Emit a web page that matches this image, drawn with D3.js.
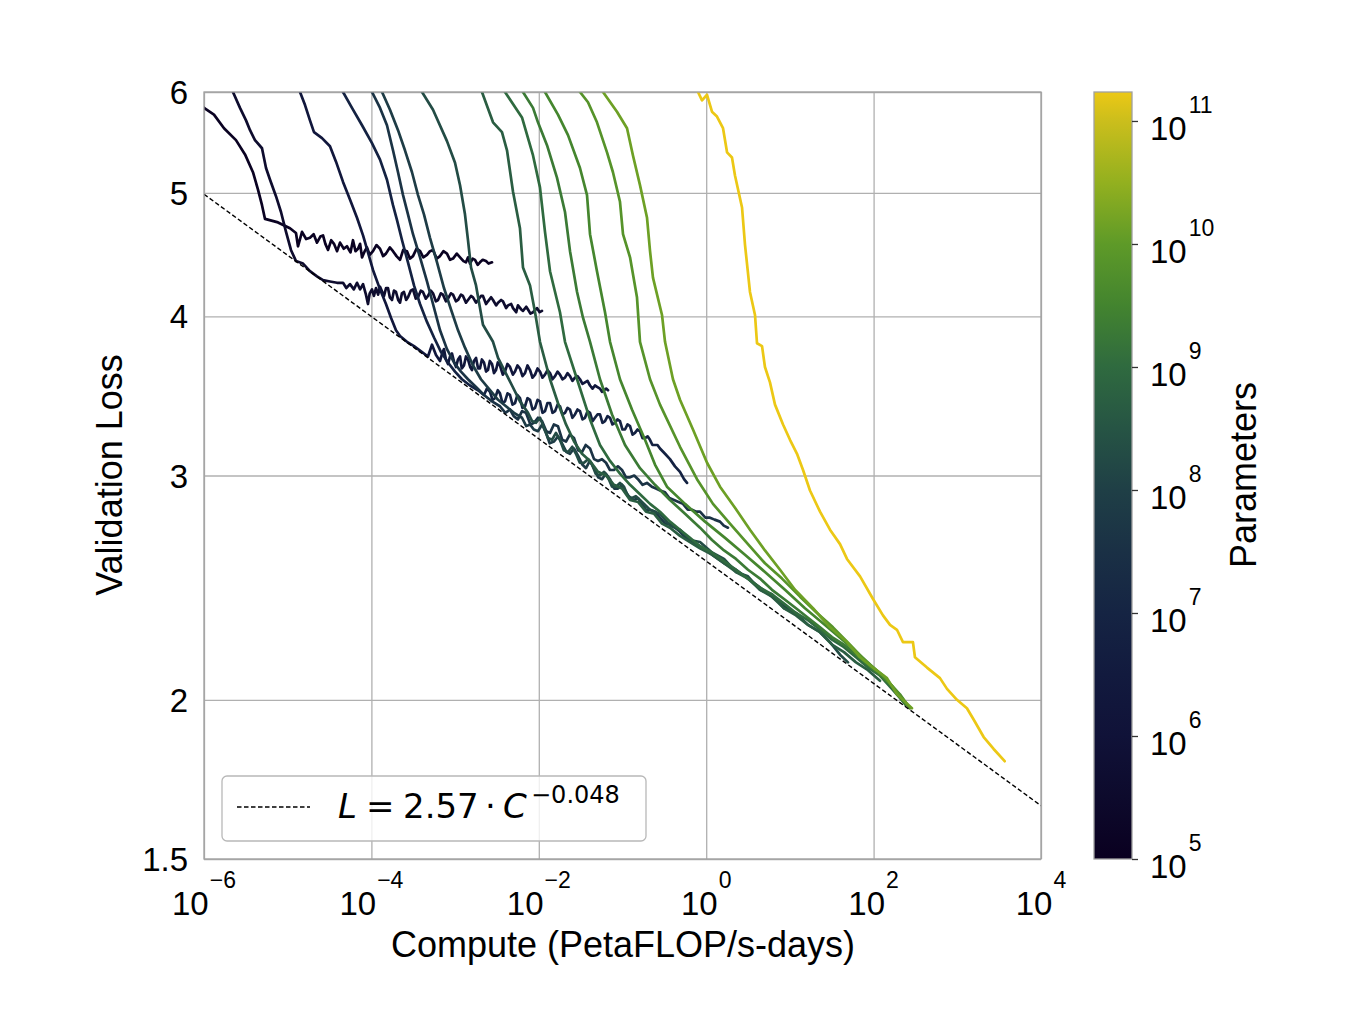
<!DOCTYPE html>
<html><head><meta charset="utf-8">
<script src="https://cdn.jsdelivr.net/npm/d3@7"></script>
<style>
body{margin:0;background:#fff}
text{font-family:"Liberation Sans",Arial,Helvetica,sans-serif;fill:#000}
</style>
</head><body>
<svg id="chart" width="1352" height="1026"></svg>
<script>
// ---------------- data ----------------
const xTickExps = [-6, -4, -2, 0, 2, 4];
const yTicks = [1.5, 2, 3, 4, 5, 6];
const yTickLabels = ["1.5", "2", "3", "4", "5", "6"];
const cbarTickExps = [5, 6, 7, 8, 9, 10, 11];
const paramRange = [1e5, 1.72e11];
const cmapStopExps = [5, 5.5, 6, 6.5, 7, 7.5, 8, 8.5, 9, 9.5, 10, 10.5, 11, 11.236];
const cmapColors = ["#0a0020", "#0d0a2c", "#101238", "#121a3e", "#152443", "#1a3045", "#1f3f46",
                    "#265444", "#2f6a3f", "#43842f", "#5e9a28", "#93b01f", "#cbbe1c", "#ecc815"];
const fitCoef = 2.57;
const fitExp = -0.048;
const fitLabel = "L = 2.57 · C^−0.048";

// parameter count of each training run
const seriesParams = [1.2e5, 4e5, 2e6, 8e6, 4e7, 8e7, 2e8, 5e8, 1e9, 2e9, 3.5e9, 7e9, 1.4e10, 1.75e11];

// each run: [log10(compute in PF-days), validation loss]
const runA = [[-6.1,5.93],[-6.000,5.83],[-5.881,5.76],[-5.761,5.62],[-5.618,5.50],[-5.510,5.36],[-5.415,5.19],[-5.355,5.03],[-5.307,4.89],[-5.271,4.77],[-5.116,4.74],[-4.973,4.69],[-4.901,4.65],[-4.877,4.54],[-4.829,4.66],[-4.78,4.60],[-4.734,4.61],[-4.69,4.64],[-4.650,4.57],[-4.61,4.62],[-4.578,4.63],[-4.55,4.56],[-4.518,4.51],[-4.48,4.59],[-4.447,4.56],[-4.41,4.50],[-4.375,4.57],[-4.33,4.52],[-4.292,4.54],[-4.25,4.49],[-4.220,4.59],[-4.19,4.50],[-4.160,4.52],[-4.135,4.56],[-4.112,4.45],[-4.08,4.50],[-4.053,4.53],[-4.02,4.47],[-3.981,4.50],[-3.94,4.55],[-3.897,4.52],[-3.86,4.46],[-3.826,4.48],[-3.78,4.53],[-3.742,4.50],[-3.70,4.46],[-3.658,4.43],[-3.62,4.51],[-3.575,4.50],[-3.54,4.44],[-3.503,4.46],[-3.46,4.52],[-3.418,4.50],[-3.38,4.45],[-3.336,4.47],[-3.30,4.50],[-3.264,4.51],[-3.22,4.44],[-3.180,4.46],[-3.14,4.50],[-3.097,4.48],[-3.06,4.43],[-3.025,4.44],[-2.98,4.48],[-2.941,4.45],[-2.90,4.42],[-2.870,4.41],[-2.845,4.45],[-2.822,4.40],[-2.79,4.44],[-2.762,4.43],[-2.73,4.39],[-2.703,4.41],[-2.67,4.43],[-2.631,4.42],[-2.60,4.40],[-2.559,4.41]];
const runB = [[-5.700,6.15],[-5.654,6.00],[-5.570,5.83],[-5.498,5.70],[-5.450,5.60],[-5.391,5.50],[-5.307,5.42],[-5.259,5.23],[-5.211,5.12],[-5.140,4.97],[-5.080,4.83],[-5.020,4.66],[-4.961,4.51],[-4.901,4.42],[-4.817,4.40],[-4.734,4.34],[-4.650,4.30],[-4.578,4.27],[-4.495,4.26],[-4.411,4.25],[-4.339,4.25],[-4.30,4.21],[-4.256,4.24],[-4.21,4.20],[-4.172,4.25],[-4.135,4.20],[-4.100,4.24],[-4.065,4.16],[-4.041,4.09],[-4.02,4.17],[-3.993,4.20],[-3.97,4.15],[-3.945,4.21],[-3.92,4.16],[-3.897,4.22],[-3.87,4.18],[-3.849,4.15],[-3.825,4.21],[-3.802,4.21],[-3.78,4.14],[-3.754,4.12],[-3.73,4.19],[-3.706,4.18],[-3.68,4.12],[-3.658,4.10],[-3.635,4.17],[-3.611,4.18],[-3.585,4.12],[-3.563,4.14],[-3.53,4.19],[-3.503,4.20],[-3.47,4.13],[-3.443,4.14],[-3.41,4.19],[-3.384,4.18],[-3.35,4.13],[-3.324,4.15],[-3.29,4.19],[-3.264,4.17],[-3.23,4.11],[-3.204,4.12],[-3.17,4.17],[-3.145,4.16],[-3.11,4.11],[-3.085,4.13],[-3.05,4.17],[-3.025,4.16],[-2.99,4.11],[-2.965,4.12],[-2.93,4.16],[-2.906,4.15],[-2.87,4.10],[-2.846,4.12],[-2.81,4.15],[-2.786,4.14],[-2.75,4.10],[-2.726,4.12],[-2.69,4.15],[-2.667,4.15],[-2.63,4.09],[-2.607,4.11],[-2.57,4.14],[-2.547,4.12],[-2.51,4.08],[-2.487,4.10],[-2.45,4.12],[-2.428,4.11],[-2.39,4.06],[-2.368,4.08],[-2.33,4.09],[-2.308,4.06],[-2.27,4.03],[-2.249,4.08],[-2.21,4.05],[-2.189,4.04],[-2.15,4.07],[-2.129,4.05],[-2.10,4.02],[-2.069,4.03],[-2.022,4.06],[-1.99,4.03],[-1.962,4.04]];
const runC = [[-4.900,6.12],[-4.853,6.00],[-4.793,5.86],[-4.734,5.70],[-4.686,5.58],[-4.590,5.52],[-4.495,5.44],[-4.423,5.29],[-4.339,5.10],[-4.256,4.94],[-4.172,4.78],[-4.100,4.63],[-4.041,4.49],[-3.981,4.35],[-3.897,4.20],[-3.826,4.09],[-3.766,3.99],[-3.706,3.90],[-3.658,3.86],[-3.575,3.82],[-3.491,3.79],[-3.407,3.755],[-3.324,3.72],[-3.276,3.80],[-3.228,3.73],[-3.180,3.69],[-3.155,3.74],[-3.133,3.77],[-3.11,3.70],[-3.085,3.67],[-3.06,3.72],[-3.037,3.74],[-3.01,3.68],[-2.989,3.65],[-2.965,3.70],[-2.941,3.72],[-2.92,3.64],[-2.894,3.66],[-2.87,3.72],[-2.846,3.70],[-2.82,3.65],[-2.798,3.63],[-2.775,3.69],[-2.750,3.71],[-2.725,3.64],[-2.703,3.64],[-2.68,3.70],[-2.655,3.68],[-2.63,3.62],[-2.607,3.63],[-2.585,3.69],[-2.559,3.67],[-2.535,3.61],[-2.511,3.63],[-2.49,3.68],[-2.464,3.66],[-2.43,3.60],[-2.404,3.62],[-2.375,3.67],[-2.344,3.65],[-2.31,3.60],[-2.284,3.62],[-2.255,3.66],[-2.225,3.64],[-2.195,3.59],[-2.165,3.61],[-2.135,3.66],[-2.105,3.63],[-2.075,3.58],[-2.045,3.60],[-2.015,3.64],[-1.986,3.62],[-1.956,3.58],[-1.926,3.60],[-1.896,3.63],[-1.866,3.61],[-1.836,3.57],[-1.806,3.59],[-1.776,3.62],[-1.747,3.60],[-1.717,3.57],[-1.687,3.58],[-1.657,3.61],[-1.627,3.59],[-1.598,3.56],[-1.568,3.58],[-1.538,3.59],[-1.508,3.57],[-1.478,3.54],[-1.448,3.55],[-1.418,3.56],[-1.388,3.53],[-1.358,3.51],[-1.329,3.53],[-1.299,3.52],[-1.269,3.51],[-1.245,3.49],[-1.221,3.50],[-1.195,3.51],[-1.173,3.50]];
const runD = [[-4.399,6.09],[-4.339,6.00],[-4.232,5.83],[-4.112,5.65],[-3.993,5.47],[-3.897,5.31],[-3.814,5.12],[-3.742,4.89],[-3.694,4.76],[-3.634,4.59],[-3.563,4.41],[-3.491,4.23],[-3.419,4.09],[-3.336,3.96],[-3.252,3.85],[-3.168,3.75],[-3.085,3.68],[-3.001,3.62],[-2.918,3.57],[-2.822,3.53],[-2.726,3.50],[-2.655,3.47],[-2.62,3.51],[-2.583,3.49],[-2.553,3.44],[-2.523,3.45],[-2.49,3.50],[-2.464,3.48],[-2.434,3.42],[-2.404,3.43],[-2.374,3.48],[-2.344,3.47],[-2.314,3.41],[-2.284,3.42],[-2.255,3.47],[-2.225,3.45],[-2.195,3.39],[-2.165,3.40],[-2.135,3.45],[-2.105,3.44],[-2.075,3.38],[-2.045,3.39],[-2.015,3.44],[-1.986,3.43],[-1.956,3.36],[-1.926,3.37],[-1.896,3.42],[-1.866,3.42],[-1.836,3.36],[-1.806,3.37],[-1.776,3.41],[-1.747,3.40],[-1.717,3.35],[-1.687,3.36],[-1.657,3.39],[-1.627,3.38],[-1.598,3.33],[-1.568,3.35],[-1.538,3.38],[-1.508,3.37],[-1.478,3.32],[-1.448,3.33],[-1.418,3.37],[-1.388,3.36],[-1.358,3.31],[-1.329,3.33],[-1.299,3.35],[-1.269,3.35],[-1.239,3.30],[-1.209,3.31],[-1.179,3.34],[-1.149,3.33],[-1.120,3.29],[-1.090,3.30],[-1.060,3.32],[-1.030,3.31],[-1.000,3.26],[-0.970,3.26],[-0.940,3.29],[-0.910,3.28],[-0.880,3.23],[-0.851,3.24],[-0.821,3.26],[-0.791,3.25],[-0.761,3.21],[-0.731,3.21],[-0.70,3.22],[-0.672,3.20],[-0.642,3.17],[-0.612,3.17],[-0.582,3.17],[-0.552,3.15],[-0.492,3.12],[-0.433,3.09],[-0.373,3.05],[-0.313,3.02],[-0.265,2.98],[-0.229,2.96]];
const runE = [[-4.053,6.09],[-3.993,6.00],[-3.897,5.83],[-3.814,5.65],[-3.742,5.40],[-3.682,5.19],[-3.622,4.98],[-3.563,4.81],[-3.503,4.64],[-3.419,4.45],[-3.336,4.26],[-3.264,4.09],[-3.180,3.90],[-3.097,3.77],[-3.013,3.68],[-2.930,3.62],[-2.846,3.57],[-2.750,3.52],[-2.655,3.47],[-2.559,3.43],[-2.464,3.40],[-2.40,3.36],[-2.344,3.38],[-2.30,3.34],[-2.249,3.32],[-2.20,3.37],[-2.153,3.36],[-2.10,3.29],[-2.057,3.30],[-2.01,3.33],[-1.962,3.31],[-1.91,3.25],[-1.866,3.24],[-1.82,3.29],[-1.771,3.28],[-1.72,3.20],[-1.675,3.19],[-1.63,3.23],[-1.579,3.21],[-1.53,3.14],[-1.484,3.13],[-1.44,3.17],[-1.388,3.15],[-1.34,3.09],[-1.293,3.08],[-1.245,3.09],[-1.197,3.07],[-1.15,3.03],[-1.102,3.03],[-1.055,3.05],[-1.006,3.03],[-0.958,2.99],[-0.910,2.99],[-0.86,3.00],[-0.815,2.98],[-0.76,2.95],[-0.708,2.96],[-0.65,2.94],[-0.600,2.93],[-0.55,2.92],[-0.492,2.91],[-0.44,2.88],[-0.385,2.87],[-0.33,2.86],[-0.277,2.85],[-0.22,2.82],[-0.170,2.82],[-0.12,2.81],[-0.074,2.81],[-0.01,2.78],[0.045,2.78],[0.10,2.77],[0.165,2.76],[0.21,2.74],[0.260,2.73]];
const runF = [[-3.933,6.09],[-3.873,6.00],[-3.778,5.81],[-3.682,5.60],[-3.599,5.40],[-3.515,5.19],[-3.443,4.98],[-3.372,4.81],[-3.300,4.61],[-3.216,4.41],[-3.133,4.21],[-3.049,4.05],[-2.965,3.90],[-2.882,3.78],[-2.786,3.66],[-2.691,3.57],[-2.583,3.50],[-2.487,3.44],[-2.392,3.40],[-2.296,3.36],[-2.201,3.33],[-2.15,3.28],[-2.105,3.29],[-2.06,3.26],[-2.010,3.25],[-1.96,3.29],[-1.914,3.24],[-1.87,3.18],[-1.818,3.19],[-1.77,3.22],[-1.723,3.18],[-1.67,3.13],[-1.627,3.12],[-1.58,3.15],[-1.532,3.11],[-1.48,3.06],[-1.436,3.04],[-1.39,3.08],[-1.341,3.04],[-1.29,2.99],[-1.245,2.98],[-1.20,3.01],[-1.149,2.98],[-1.10,2.93],[-1.054,2.93],[-1.005,2.95],[-0.958,2.91],[-0.91,2.88],[-0.863,2.87],[-0.815,2.88],[-0.767,2.85],[-0.72,2.82],[-0.672,2.82],[-0.61,2.81],[-0.552,2.78],[-0.49,2.75],[-0.433,2.75],[-0.37,2.73],[-0.313,2.71],[-0.25,2.68],[-0.194,2.67],[-0.074,2.64],[0.069,2.60],[0.213,2.56],[0.356,2.53],[0.499,2.49],[0.643,2.45],[0.786,2.41],[0.930,2.37],[1.025,2.35]];
const runG = [[-3.455,6.09],[-3.395,6.00],[-3.264,5.81],[-3.097,5.49],[-3.001,5.28],[-2.941,5.07],[-2.882,4.81],[-2.846,4.59],[-2.810,4.37],[-2.750,4.23],[-2.667,3.94],[-2.547,3.82],[-2.487,3.71],[-2.404,3.62],[-2.320,3.53],[-2.225,3.43],[-2.129,3.36],[-2.08,3.31],[-2.033,3.30],[-1.985,3.33],[-1.938,3.27],[-1.89,3.21],[-1.842,3.20],[-1.795,3.24],[-1.747,3.20],[-1.70,3.14],[-1.651,3.13],[-1.60,3.16],[-1.556,3.12],[-1.51,3.07],[-1.460,3.07],[-1.41,3.09],[-1.364,3.06],[-1.32,3.01],[-1.269,3.00],[-1.22,3.02],[-1.173,2.99],[-1.125,2.94],[-1.078,2.94],[-1.03,2.96],[-0.982,2.94],[-0.935,2.89],[-0.887,2.88],[-0.84,2.89],[-0.791,2.87],[-0.672,2.82],[-0.552,2.80],[-0.433,2.74],[-0.313,2.72],[-0.194,2.67],[-0.074,2.66],[0.069,2.61],[0.213,2.58],[0.356,2.52],[0.499,2.50],[0.643,2.44],[0.786,2.42],[0.930,2.36],[1.073,2.34],[1.216,2.29],[1.360,2.26],[1.479,2.22],[1.599,2.17],[1.694,2.14]];
const runH = [[-2.738,6.09],[-2.679,6.00],[-2.547,5.68],[-2.440,5.58],[-2.380,5.40],[-2.308,5.01],[-2.225,4.69],[-2.189,4.37],[-2.105,4.23],[-2.045,4.03],[-1.986,3.82],[-1.866,3.57],[-1.771,3.42],[-1.675,3.29],[-1.579,3.19],[-1.484,3.12],[-1.388,3.08],[-1.293,3.02],[-1.197,3.00],[-1.102,2.95],[-1.006,2.93],[-0.910,2.87],[-0.815,2.86],[-0.719,2.81],[-0.624,2.80],[-0.528,2.75],[-0.433,2.73],[-0.313,2.69],[-0.194,2.66],[-0.074,2.63],[0.069,2.60],[0.213,2.56],[0.356,2.52],[0.499,2.49],[0.643,2.44],[0.786,2.41],[0.930,2.36],[1.073,2.33],[1.216,2.29],[1.360,2.26],[1.503,2.21],[1.646,2.18],[1.790,2.14],[1.933,2.11],[2.076,2.07]];
const runI = [[-2.464,6.09],[-2.404,6.00],[-2.201,5.73],[-2.069,5.35],[-1.986,5.05],[-1.926,4.66],[-1.866,4.34],[-1.747,4.03],[-1.687,3.82],[-1.543,3.57],[-1.388,3.32],[-1.269,3.17],[-1.149,3.08],[-1.030,3.01],[-0.910,2.95],[-0.791,2.90],[-0.671,2.85],[-0.552,2.81],[-0.433,2.76],[-0.313,2.72],[-0.194,2.68],[-0.074,2.64],[0.069,2.61],[0.213,2.57],[0.356,2.53],[0.499,2.49],[0.643,2.45],[0.786,2.42],[0.930,2.38],[1.073,2.34],[1.216,2.31],[1.360,2.27],[1.503,2.23],[1.646,2.20],[1.790,2.16],[1.933,2.12],[2.076,2.09],[2.219,2.04],[2.363,1.99]];
const runJ = [[-2.249,6.09],[-2.189,6.00],[-2.069,5.83],[-2.010,5.68],[-1.902,5.45],[-1.783,5.14],[-1.687,4.83],[-1.627,4.50],[-1.543,4.18],[-1.472,3.99],[-1.388,3.82],[-1.269,3.57],[-1.125,3.35],[-0.970,3.17],[-0.791,3.04],[-0.612,2.95],[-0.433,2.87],[-0.253,2.80],[-0.074,2.73],[0.069,2.67],[0.213,2.62],[0.356,2.58],[0.499,2.53],[0.643,2.49],[0.786,2.44],[0.930,2.40],[1.073,2.36],[1.216,2.32],[1.360,2.28],[1.503,2.24],[1.646,2.21],[1.790,2.17],[1.933,2.13],[2.076,2.09],[2.219,2.05],[2.386,1.98]];
const runK = [[-1.986,6.09],[-1.926,6.00],[-1.771,5.76],[-1.651,5.55],[-1.508,5.23],[-1.424,4.98],[-1.388,4.64],[-1.305,4.34],[-1.209,4.03],[-1.149,3.82],[-1.030,3.57],[-0.887,3.38],[-0.731,3.20],[-0.612,3.06],[-0.469,2.94],[-0.253,2.85],[-0.014,2.76],[0.225,2.68],[0.463,2.60],[0.702,2.52],[0.941,2.44],[1.180,2.36],[1.419,2.29],[1.658,2.22],[1.897,2.15],[2.136,2.08],[2.315,2.02],[2.434,1.97]];
const runL = [[-1.568,6.09],[-1.508,6.00],[-1.412,5.89],[-1.305,5.68],[-1.185,5.38],[-1.114,5.19],[-1.030,4.92],[-0.994,4.64],[-0.910,4.45],[-0.827,4.14],[-0.791,3.82],[-0.671,3.57],[-0.552,3.41],[-0.313,3.16],[-0.110,2.98],[0.081,2.85],[0.284,2.75],[0.499,2.65],[0.702,2.56],[0.906,2.49],[1.121,2.41],[1.324,2.34],[1.515,2.28],[1.718,2.21],[1.921,2.14],[2.112,2.09],[2.279,2.03],[2.434,1.97]];
const runM = [[-1.293,6.09],[-1.233,6.00],[-1.066,5.79],[-0.946,5.62],[-0.875,5.35],[-0.791,5.07],[-0.707,4.78],[-0.671,4.50],[-0.636,4.29],[-0.528,4.01],[-0.492,3.82],[-0.397,3.57],[-0.313,3.44],[-0.158,3.26],[0.010,3.07],[0.165,2.94],[0.344,2.83],[0.523,2.72],[0.702,2.62],[0.882,2.53],[1.061,2.44],[1.276,2.36],[1.479,2.28],[1.682,2.22],[1.838,2.16],[1.993,2.12],[2.160,2.08],[2.279,2.02],[2.458,1.97]];
const runN = [[-0.134,6.09],[-0.098,6.00],[-0.050,5.91],[0.010,5.97],[0.069,5.79],[0.129,5.74],[0.201,5.62],[0.249,5.38],[0.308,5.33],[0.344,5.16],[0.428,4.87],[0.464,4.55],[0.523,4.18],[0.583,4.01],[0.607,3.81],[0.667,3.79],[0.702,3.65],[0.762,3.55],[0.822,3.41],[0.918,3.29],[1.001,3.20],[1.085,3.12],[1.157,3.03],[1.240,2.92],[1.360,2.81],[1.479,2.72],[1.599,2.65],[1.682,2.58],[1.838,2.50],[1.993,2.40],[2.112,2.33],[2.196,2.29],[2.279,2.27],[2.351,2.22],[2.470,2.22],[2.494,2.16],[2.638,2.12],[2.793,2.08],[2.877,2.04],[2.996,2.00],[3.115,1.97],[3.195,1.93],[3.315,1.87],[3.434,1.83],[3.566,1.79]];
const runs = [runA, runB, runC, runD, runE, runF, runG, runH, runI, runJ, runK, runL, runM, runN];

// ---------------- drawing ----------------
const W = 1352, H = 1026;
const P = {l: 204, t: 92, r: 1041, b: 859};
const svg = d3.select("#chart");
svg.append("rect").attr("width", W).attr("height", H).attr("fill", "#fff");

const x = d3.scaleLog().domain([10 ** xTickExps[0], 10 ** xTickExps[xTickExps.length - 1]]).range([P.l, P.r]);
const y = d3.scaleLog().domain([yTicks[0], yTicks[yTicks.length - 1]]).range([P.b, P.t]);

const cmap = d3.scaleLinear().domain(cmapStopExps).range(cmapColors).interpolate(d3.interpolateRgb).clamp(true);
const colorOf = p => cmap(Math.log10(p));

// grid
const gridColor = "#b0b0b0";
const gx = svg.append("g").attr("transform", `translate(0,${P.b})`)
  .call(d3.axisBottom(x).tickValues(xTickExps.map(e => 10 ** e)).tickSize(-(P.b - P.t)).tickFormat(""));
gx.select(".domain").remove();
gx.selectAll(".tick line").attr("stroke", gridColor).attr("stroke-width", 1.3);
const gy = svg.append("g").attr("transform", `translate(${P.l},0)`)
  .call(d3.axisLeft(y).tickValues(yTicks).tickSize(-(P.r - P.l)).tickFormat(""));
gy.select(".domain").remove();
gy.selectAll(".tick line").attr("stroke", gridColor).attr("stroke-width", 1.3);

// x tick labels (10^n)
const xl = svg.append("g");
xTickExps.forEach(e => {
  const t = xl.append("text").attr("x", x(10 ** e)).attr("y", 915).attr("text-anchor", "middle").attr("font-size", 33);
  t.append("tspan").text("10");
  t.append("tspan").attr("font-size", 23).attr("dx", 1).attr("dy", -27).text((e < 0 ? "\u2212" : "") + Math.abs(e));
});
// y tick labels
yTicks.forEach((v, i) => {
  svg.append("text").attr("x", 188).attr("y", y(v) + 12).attr("text-anchor", "end")
    .attr("font-size", 33).text(yTickLabels[i]);
});

// axis titles
svg.append("text").attr("x", 623).attr("y", 957).attr("text-anchor", "middle").attr("font-size", 36)
  .text("Compute (PetaFLOP/s-days)");
svg.append("text").attr("transform", "translate(122,475) rotate(-90)").attr("text-anchor", "middle")
  .attr("font-size", 36).text("Validation Loss");

// clip
svg.append("clipPath").attr("id", "plotclip").append("rect")
  .attr("x", P.l).attr("y", P.t).attr("width", P.r - P.l).attr("height", P.b - P.t);
const plot = svg.append("g").attr("clip-path", "url(#plotclip)");

const line = d3.line().x(d => x(10 ** d[0])).y(d => y(d[1]));
runs.forEach((r, i) => {
  plot.append("path").datum(r).attr("d", line).attr("fill", "none")
    .attr("stroke", colorOf(seriesParams[i])).attr("stroke-width", 2.7)
    .attr("stroke-linejoin", "round").attr("stroke-linecap", "round");
});

// power-law fit
const fitDomain = x.domain();
const fitPts = fitDomain.map(c => [c, fitCoef * Math.pow(c, fitExp)]);
plot.append("path").datum(fitPts)
  .attr("d", d3.line().x(d => x(d[0])).y(d => y(d[1])))
  .attr("fill", "none").attr("stroke", "#000").attr("stroke-width", 1.4).attr("stroke-dasharray", "4.5,2.5");

// frame
svg.append("rect").attr("x", P.l).attr("y", P.t).attr("width", P.r - P.l).attr("height", P.b - P.t)
  .attr("fill", "none").attr("stroke", "#a0a0a0").attr("stroke-width", 1.3);

// legend
const lg = svg.append("g");
lg.append("rect").attr("x", 222).attr("y", 776).attr("width", 424).attr("height", 65).attr("rx", 5)
  .attr("fill", "#fff").attr("fill-opacity", 0.8).attr("stroke", "#b8b8b8").attr("stroke-width", 1.3);
lg.append("line").attr("x1", 237).attr("x2", 310).attr("y1", 807).attr("y2", 807)
  .attr("stroke", "#000").attr("stroke-width", 1.4).attr("stroke-dasharray", "4.5,2.5");
const parts = fitLabel.split("^");
const lt = lg.append("text").attr("y", 818).attr("font-size", 34)
  .style("font-family", "'DejaVu Sans', sans-serif");
lt.append("tspan").attr("x", 338).attr("font-style", "italic").text("L");
lt.append("tspan").attr("x", 366).text("=");
lt.append("tspan").attr("x", 403).text(parts[0].split(" ")[2]);
lt.append("tspan").attr("x", 485).text("·");
lt.append("tspan").attr("x", 503).attr("font-style", "italic").text("C");
lt.append("tspan").attr("x", 531).attr("y", 803).attr("font-size", 24).text(parts[1]);

// colorbar
const CB = {x: 1094, w: 38, t: 92, b: 859};
const cScale = d3.scaleLog().domain(paramRange).range([CB.b, CB.t]);
const defs = svg.append("defs");
const grad = defs.append("linearGradient").attr("id", "cbgrad").attr("x1", 0).attr("y1", 1).attr("x2", 0).attr("y2", 0);
const lo = Math.log10(paramRange[0]), hi = Math.log10(paramRange[1]);
cmapStopExps.forEach((e, i) => {
  grad.append("stop").attr("offset", Math.min(1, (e - lo) / (hi - lo))).attr("stop-color", cmapColors[i]);
});
svg.append("rect").attr("x", CB.x).attr("y", CB.t).attr("width", CB.w).attr("height", CB.b - CB.t)
  .attr("fill", "url(#cbgrad)").attr("stroke", "#a0a0a0").attr("stroke-width", 1.3);
const ca = svg.append("g").attr("transform", `translate(${CB.x + CB.w},0)`)
  .call(d3.axisRight(cScale).tickValues(cbarTickExps.map(e => 10 ** e)).tickSize(6).tickFormat(""));
ca.select(".domain").remove();
ca.selectAll(".tick line").attr("stroke", "#333").attr("stroke-width", 1.3);
cbarTickExps.forEach(e => {
  const ty = cScale(10 ** e);
  const t = svg.append("text").attr("x", 1150).attr("y", ty + 19).attr("font-size", 33);
  t.append("tspan").text("10");
  t.append("tspan").attr("font-size", 23).attr("dx", 2).attr("dy", -27).text(String(e));
});
svg.append("text").attr("transform", "translate(1256,475) rotate(-90)").attr("text-anchor", "middle")
  .attr("font-size", 36).text("Parameters");
</script>
</body></html>
